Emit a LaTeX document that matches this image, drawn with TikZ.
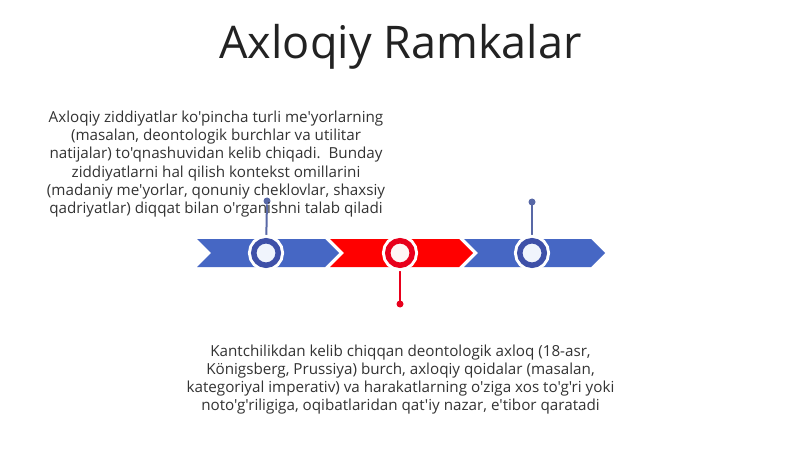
\documentclass[tikz,border=0pt]{standalone}
\usepackage{fontspec}
\newfontfamily\osans{Open Sans}
\definecolor{bandblue}{RGB}{70,103,196}
\definecolor{ringblue}{RGB}{62,80,168}
\definecolor{stemblue}{RGB}{88,104,166}
\definecolor{bandred}{RGB}{255,0,0}
\definecolor{ringred}{RGB}{232,0,28}
\definecolor{bodytext}{RGB}{51,51,51}
\definecolor{titletext}{RGB}{34,34,34}
\tikzset{
  ring/.style={circle, inner sep=0pt, outer sep=0pt, minimum size=24.5pt,
    line width=5.5pt, preaction={draw=white, line width=11.5pt}},
  dotnode/.style={circle, inner sep=0pt, outer sep=0pt, minimum size=7pt},
  stem/.style={line width=2pt},
  body/.style={align=center, text=bodytext, inner sep=0pt,
    font=\osans\fontsize{15.2}{18.2}\selectfont},
}
\begin{document}
\begin{tikzpicture}[x=1pt, y=-1pt]
\useasboundingbox[fill=white] (0,0) rectangle (800,449);

% title
\node[anchor=base, text=titletext, inner sep=0pt, font=\osans\fontsize{45}{54}\selectfont]
  (title) at (400.5,59) {Axloqiy Ramkalar};

% band segments
\fill[bandblue] (197,239) -- (325,239) -- (339,253) -- (325,267) -- (197,267) -- (211,253) -- cycle;
\fill[bandred] (330,239) -- (459,239) -- (473,253) -- (459,267) -- (330,267) -- (344,253) -- cycle;
\fill[bandblue] (464,239) -- (591,239) -- (605,253) -- (591,267) -- (464,267) -- (478,253) -- cycle;

% dots
\node[dotnode, fill=stemblue] (d1) at (267,201) {};
\node[dotnode, fill=ringred] (d2) at (400,304) {};
\node[dotnode, fill=stemblue] (d3) at (532,202) {};

% ring coordinates for stems
\coordinate (p1) at (266,253);
\coordinate (p2) at (400,253);
\coordinate (p3) at (532,253);
\draw[stem, stemblue] (p1) -- (d1);
\draw[stem, ringred] (p2) -- (d2);
\draw[stem, stemblue] (p3) -- (d3);

% rings
\node[ring, draw=ringblue, fill={rgb,255:red,240;green,244;blue,252}] (c1) at (p1) {};
\node[ring, draw=ringred, fill={rgb,255:red,255;green,246;blue,246}] (c2) at (p2) {};
\node[ring, draw=ringblue, fill={rgb,255:red,240;green,244;blue,252}] (c3) at (p3) {};

% texts
\node[body] (t1) at (216,164) {Axloqiy ziddiyatlar ko'pincha turli me'yorlarning\\
(masalan, deontologik burchlar va utilitar\\
natijalar) to'qnashuvidan kelib chiqadi.\ \ Bunday\\
ziddiyatlarni hal qilish kontekst omillarini\\
(madaniy me'yorlar, qonuniy cheklovlar, shaxsiy\\
qadriyatlar) diqqat bilan o'rganishni talab qiladi};

\node[body] (t2) at (400.5,379.5) {Kantchilikdan kelib chiqqan deontologik axloq (18-asr,\\
Königsberg, Prussiya) burch, axloqiy qoidalar (masalan,\\
kategoriyal imperativ) va harakatlarning o'ziga xos to'g'ri yoki\\
noto'g'riligiga, oqibatlaridan qat'iy nazar, e'tibor qaratadi};
\end{tikzpicture}
\end{document}
